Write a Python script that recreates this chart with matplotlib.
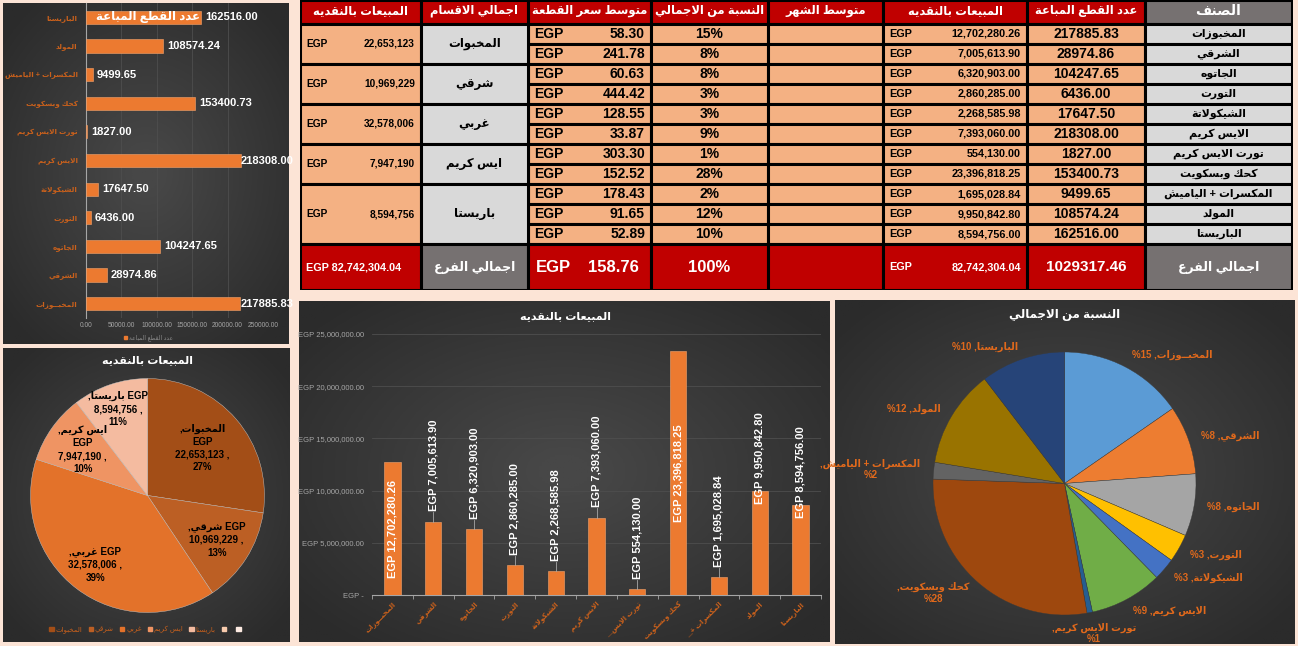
import numpy as np
import matplotlib
matplotlib.use("Agg")
import matplotlib.pyplot as plt
from matplotlib.colors import LinearSegmentedColormap
from matplotlib.patches import Rectangle, Patch

plt.rcParams["font.family"] = ["Liberation Sans", "DejaVu Sans"]

# ---------------- data ----------------
items = ["المخبوزات", "الشرقي", "الجاتوه", "التورت", "الشيكولاتة", "الايس كريم",
         "تورت الايس كريم", "كحك وبسكويت", "المكسرات + الياميش", "المولد", "الباريستا"]
items_chart = ["المخبــوزات"] + items[1:]
units = [217885.83, 28974.86, 104247.65, 6436.00, 17647.50, 218308.00,
         1827.00, 153400.73, 9499.65, 108574.24, 162516.00]
sales = [12702280.26, 7005613.90, 6320903.00, 2860285.00, 2268585.98, 7393060.00,
         554130.00, 23396818.25, 1695028.84, 9950842.80, 8594756.00]
avg_price = [58.30, 241.78, 60.63, 444.42, 128.55, 33.87, 303.30, 152.52, 178.43, 91.65, 52.89]
share_pct = [15, 8, 8, 3, 3, 9, 1, 28, 2, 12, 10]

depts = ["المخبوات", "شرقي", "غربي", "ايس كريم", "باريستا"]
dept_sales = [22653123, 10969229, 32578006, 7947190, 8594756]
dept_pct = [27, 13, 39, 10, 11]
dept_rows = [2, 2, 2, 2, 3]

total_sales = 82742304.04
total_units = 1029317.46
total_avg = 158.76
total_label = "اجمالي الفرع"

headers = ["المبيعات بالنقديه", "اجمالي الاقسام", "متوسط سعر القطعة", "النسبة من الاجمالي",
           "متوسط الشهر", "المبيعات بالنقديه", "عدد القطع المباعة", "الصنف"]

# ---------------- arabic shaping (no reshaper available) ----------------
_dual = dict(zip("ئبتثجحخسشصضطظعغفقكلمنهي",
                 [0xFE89, 0xFE8F, 0xFE95, 0xFE99, 0xFE9D, 0xFEA1, 0xFEA5, 0xFEB1, 0xFEB5,
                  0xFEB9, 0xFEBD, 0xFEC1, 0xFEC5, 0xFEC9, 0xFECD, 0xFED1, 0xFED5, 0xFED9,
                  0xFEDD, 0xFEE1, 0xFEE5, 0xFEE9, 0xFEF1]))
_right = dict(zip("آأؤإاةدذرزوى",
                  [0xFE81, 0xFE83, 0xFE85, 0xFE87, 0xFE8D, 0xFE93, 0xFEA9, 0xFEAB,
                   0xFEAD, 0xFEAF, 0xFEED, 0xFEEF]))
_lamalef = {"ا": 0xFEFB, "أ": 0xFEF7, "إ": 0xFEF9, "آ": 0xFEF5}


def _joins_left(c):
    return c in _dual or c == "ـ"


def _is_ar(c):
    return c in _dual or c in _right or c == "ـ" or c == "ء"


def shape(s):
    out = []
    i = 0
    while i < len(s):
        c = s[i]
        prev = s[i - 1] if i > 0 else ""
        nxt = s[i + 1] if i + 1 < len(s) else ""
        if c == "ل" and nxt in _lamalef:
            out.append(chr(_lamalef[nxt] + (1 if _joins_left(prev) else 0)))
            i += 2
            continue
        if c in _dual:
            p, q = _joins_left(prev), _is_ar(nxt)
            idx = 3 if (p and q) else 2 if q else 1 if p else 0
            out.append(chr(_dual[c] + idx))
        elif c in _right:
            out.append(chr(_right[c] + (1 if _joins_left(prev) else 0)))
        else:
            out.append(c)
        i += 1
    return "".join(out)


def ar(s):
    return shape(s)[::-1]


def ar_short(s, n=10):
    # excel cuts long category names on the slanted axis
    return "..." + ar(s[:n]) if len(s) > n + 2 else ar(s)


# ---------------- figure ----------------
W, H = 1298, 646
fig = plt.figure(figsize=(W / 100, H / 100), dpi=100, facecolor="#FCE4D6")


def box(x0, y0, x1, y1):
    return [x0 / W, 1 - y1 / H, (x1 - x0) / W, (y1 - y0) / H]


grad = LinearSegmentedColormap.from_list("g", ["#474747", "#2b2b2b"])


def panel(x0, y0, x1, y1):
    bg = fig.add_axes(box(x0, y0, x1, y1))
    yy, xx = np.mgrid[-1:1:200j, -1:1:200j]
    bg.imshow(np.hypot(xx, yy), cmap=grad, vmin=0.1, vmax=1.3, aspect="auto",
              extent=(0, 1, 0, 1))
    bg.axis("off")
    return bg


ORANGE = "#EC7A30"
LBL = "#C8601C"

# ---------- top-left: units sold (horizontal bars) ----------
panel(3, 3, 289, 344)
ax1 = fig.add_axes(box(86, 3, 263, 318))
ax1.set_facecolor("none")
ypos = np.arange(len(units))
ax1.barh(ypos, units, height=0.46, color=ORANGE, edgecolor="#F4A46E", lw=0.4, zorder=3)
ax1.set_xlim(0, 250000)
ax1.set_ylim(-0.5, len(units) - 0.5)
xt1 = np.arange(0, 250001, 50000)
ax1.set_xticks(xt1)
ax1.set_xticklabels([f"{t:.2f}" for t in xt1], fontsize=4.8, color="#A6A6A6")
ax1.set_yticks(ypos)
ax1.set_yticklabels([ar(n) for n in items_chart], fontsize=5.2, color=LBL, fontweight="bold")
ax1.tick_params(axis="y", length=0, pad=6)
ax1.tick_params(axis="x", length=0, pad=3)
ax1.grid(axis="x", color="#4e4e4e", lw=0.6, zorder=0)
for s in ["top", "right", "bottom"]:
    ax1.spines[s].set_visible(False)
ax1.spines["left"].set_color("#A6A6A6")
for y, v in zip(ypos, units):
    ax1.annotate(f"{v:.2f}", (min(v, 212000), y), xytext=(3, 0), textcoords="offset points",
                 ha="left", va="center", color="white", fontsize=8, fontweight="bold", zorder=5)
fig.text(148 / W, 1 - 17 / H, ar("عدد القطع المباعة"), ha="center", va="center",
         color="white", fontsize=8.5, fontweight="bold")
fig.patches.append(Rectangle((124 / W, 1 - 339 / H), 3 / W, 3 / H, transform=fig.transFigure,
                             color=ORANGE))
fig.text(129 / W, 1 - 337.5 / H, ar("عدد القطع المباعة"), ha="left", va="center",
         color="#8c8c8c", fontsize=4.2)

# ---------- table ----------
tab = fig.add_axes(box(300, 0, 1293, 290))
tab.set_xlim(300, 1293)
tab.set_ylim(290, 0)
tab.axis("off")
cols = [300, 421, 528, 651, 768, 883, 1027, 1145, 1292]
RED, GREYH, SALMON, LGREY = "#C00000", "#767171", "#F4B183", "#D9D9D9"
HDR_B, ROW_H, TOT_B = 24, 20, 290


def cell(c0, c1, y0, y1, fc):
    tab.add_patch(Rectangle((cols[c0], y0), cols[c1] - cols[c0], y1 - y0, fc=fc,
                            ec="black", lw=2.2))


def money(c, y, val, size=8, color="black", weight="bold"):
    tab.text(cols[c] + 6, y, "EGP", ha="left", va="center", fontsize=size, color=color,
             fontweight=weight)
    tab.text(cols[c + 1] - 6, y, val, ha="right", va="center", fontsize=size, color=color,
             fontweight=weight)


for c, h in enumerate(headers):
    cell(c, c + 1, 0, HDR_B, GREYH if c == 7 else RED)
    tab.text((cols[c] + cols[c + 1]) / 2, HDR_B / 2 - 1, ar(h), ha="center", va="center",
             color="white", fontsize=10 if c == 7 else 8.3, fontweight="bold")

for r in range(len(items)):
    y0 = HDR_B + r * ROW_H
    yc = y0 + ROW_H / 2
    for c in (2, 3, 4, 5, 6):
        cell(c, c + 1, y0, y0 + ROW_H, SALMON)
    cell(7, 8, y0, y0 + ROW_H, LGREY)
    tab.text((cols[7] + cols[8]) / 2, yc, ar(items[r]), ha="center", va="center",
             fontsize=7.8, fontweight="bold", color="black")
    tab.text((cols[6] + cols[7]) / 2, yc, f"{units[r]:.2f}", ha="center", va="center",
             fontsize=10, fontweight="bold")
    money(5, yc, f"{sales[r]:,.2f}", size=7.8)
    tab.text((cols[3] + cols[4]) / 2, yc, f"{share_pct[r]}%", ha="center", va="center",
             fontsize=10, fontweight="bold")
    money(2, yc, f"{avg_price[r]:.2f}", size=10)

y0 = HDR_B
for d, v, n in zip(depts, dept_sales, dept_rows):
    y1 = y0 + n * ROW_H
    cell(0, 1, y0, y1, SALMON)
    cell(1, 2, y0, y1, LGREY)
    money(0, (y0 + y1) / 2, f"{v:,}", size=7.3)
    tab.text((cols[1] + cols[2]) / 2, (y0 + y1) / 2, ar(d), ha="center", va="center",
             fontsize=8.5, fontweight="bold")
    y0 = y1

yt0, yt1 = y0, TOT_B
ytc = (yt0 + yt1) / 2
for c, fc in enumerate([RED, GREYH, RED, RED, RED, RED, RED, GREYH]):
    cell(c, c + 1, yt0, yt1, fc)
tab.text(cols[0] + 6, ytc, f"EGP {total_sales:,.2f}", ha="left", va="center", color="white",
         fontsize=7.8, fontweight="bold")
for c in (1, 7):
    tab.text((cols[c] + cols[c + 1]) / 2, ytc, ar(total_label), ha="center", va="center",
             color="white", fontsize=9, fontweight="bold")
tab.text(cols[2] + 8, ytc, "EGP", ha="left", va="center", color="white", fontsize=12,
         fontweight="bold")
tab.text(cols[3] - 12, ytc, f"{total_avg:.2f}", ha="right", va="center", color="white",
         fontsize=12, fontweight="bold")
tab.text((cols[3] + cols[4]) / 2, ytc, "100%", ha="center", va="center", color="white",
         fontsize=12, fontweight="bold")
money(5, ytc, f"{total_sales:,.2f}", size=7.8, color="white")
tab.text((cols[6] + cols[7]) / 2, ytc, f"{total_units:.2f}", ha="center", va="center",
         color="white", fontsize=11, fontweight="bold")

# ---------- bottom-left: department pie ----------
panel(3, 348, 290, 642)
fig.text(147 / W, 1 - 360 / H, ar("المبيعات بالنقديه"), ha="center", va="center",
         color="white", fontsize=8, fontweight="bold")
ax2 = fig.add_axes(box(30.5, 378.5, 264.5, 612.5))
dept_colors = ["#A34E17", "#BC5F24", "#E3722A", "#EF9463", "#F4BBA0"]
w2, _ = ax2.pie(dept_sales, colors=dept_colors, startangle=90, counterclock=False,
                wedgeprops=dict(ec="#C9C9C9", lw=0.3))
ax2.set_xlim(-1, 1)
ax2.set_ylim(-1, 1)
dept_lbl = [
    f",{ar(depts[0])}\nEGP\n{dept_sales[0]:,} ,\n{dept_pct[0]}%",
    f",{ar(depts[1])} EGP\n{dept_sales[1]:,} ,\n{dept_pct[1]}%",
    f",{ar(depts[2])} EGP\n{dept_sales[2]:,} ,\n{dept_pct[2]}%",
    f",{ar(depts[3])}\nEGP\n{dept_sales[3]:,} ,\n{dept_pct[3]}%",
    f",{ar(depts[4])} EGP\n{dept_sales[4]:,} ,\n{dept_pct[4]}%",
]
for w, t, d in zip(w2, dept_lbl, [0.62, 0.7, 0.74, 0.68, 0.78]):
    a = np.deg2rad((w.theta1 + w.theta2) / 2)
    ax2.text(d * np.cos(a), d * np.sin(a), t, ha="center", va="center", fontsize=7,
             fontweight="bold", color="black", linespacing=1.35)
leg_h = [Patch(color=c) for c in dept_colors] + [Patch(color="#F8CBAD"), Patch(color="#FDEBE2")]
leg_l = [ar(d) for d in depts] + [" ", " "]
fig.legend(leg_h, leg_l, loc="center", bbox_to_anchor=(147 / W, 1 - 630 / H), ncol=7,
           fontsize=5, labelcolor=LBL, frameon=False, handlelength=0.6, handleheight=0.6,
           handletextpad=0.3, columnspacing=0.9)

# ---------- bottom-middle: sales bars ----------
panel(299, 301, 829, 642)
fig.text(565 / W, 1 - 316 / H, ar("المبيعات بالنقديه"), ha="center", va="center",
         color="white", fontsize=8, fontweight="bold")
ax3 = fig.add_axes(box(372, 334, 821, 595))
ax3.set_facecolor("none")
xpos = np.arange(len(sales))
ax3.bar(xpos, sales, width=0.4, color=ORANGE, edgecolor="#F4A46E", lw=0.4, zorder=3)
ax3.set_ylim(0, 25e6)
ax3.set_xlim(-0.5, len(sales) - 0.5)
yt = np.arange(0, 25e6 + 1, 5e6)
ax3.set_yticks(yt)
ax3.set_yticklabels(["EGP -" if v == 0 else f"EGP {v:,.2f}" for v in yt], fontsize=5.5,
                    color="#A6A6A6")
ax3.set_xticks(xpos)
ax3.set_xticklabels([ar_short(n) for n in items_chart], rotation=45, ha="right",
                    rotation_mode="anchor", fontsize=5.0, color=LBL, fontweight="bold")
ax3.tick_params(axis="y", length=0, pad=6)
ax3.tick_params(axis="x", length=0, pad=4)
ax3.set_xticks(np.arange(-0.5, len(sales), 1), minor=True)
ax3.tick_params(axis="x", which="minor", length=3, color="#A6A6A6")
ax3.grid(axis="y", color="#4e4e4e", lw=0.6, zorder=0)
for s in ["top", "right", "left"]:
    ax3.spines[s].set_visible(False)
ax3.spines["bottom"].set_color("#A6A6A6")
for x, v in zip(xpos, sales):
    lab = f"EGP {v:,.2f}"
    kw = dict(rotation=90, ha="center", color="white", fontsize=8, fontweight="bold", zorder=5)
    if v > 12e6:
        ax3.text(x, v / 2, lab, va="center", **kw)
    elif v > 8e6:
        ax3.text(x, v - 1.2e6, lab, va="bottom", **kw)
    else:
        ax3.plot([x, x], [v, v + 0.9e6], color="#A6A6A6", lw=0.6, zorder=4)
        ax3.text(x, v + 1.0e6, lab, va="bottom", **kw)

# ---------- bottom-right: share pie ----------
panel(835, 300, 1295, 644)
fig.text(1065 / W, 1 - 315 / H, ar("النسبة من الاجمالي"), ha="center", va="center",
         color="white", fontsize=8.5, fontweight="bold")
ax4 = fig.add_axes(box(933, 352, 1196, 615))
share_colors = ["#5B9BD5", "#ED7D31", "#A5A5A5", "#FFC000", "#4472C4", "#70AD47",
                "#255E91", "#9E480E", "#636363", "#997300", "#264478"]
w4, _ = ax4.pie(sales, colors=share_colors, startangle=90, counterclock=False,
                wedgeprops=dict(ec="#3a3a3a", lw=0.3))
ax4.set_xlim(-1, 1)
ax4.set_ylim(-1, 1)
two_line = {6, 7, 8}
for i, (w, n, p) in enumerate(zip(w4, items_chart, share_pct)):
    a = np.deg2rad((w.theta1 + w.theta2) / 2)
    d = 1.16 if i == 6 else 1.1
    x, y = d * np.cos(a), d * np.sin(a)
    t = f",{ar(n)}\n%{p}" if i in two_line else f"%{p} ,{ar(n)}"
    ha = "center" if i == 6 else ("left" if x > 0 else "right")
    ax4.text(x, y, t, ha=ha, va="center", fontsize=7, fontweight="bold",
             color="#E0691C", multialignment="center")

fig.savefig("out.png", dpi=100, facecolor=fig.get_facecolor())
